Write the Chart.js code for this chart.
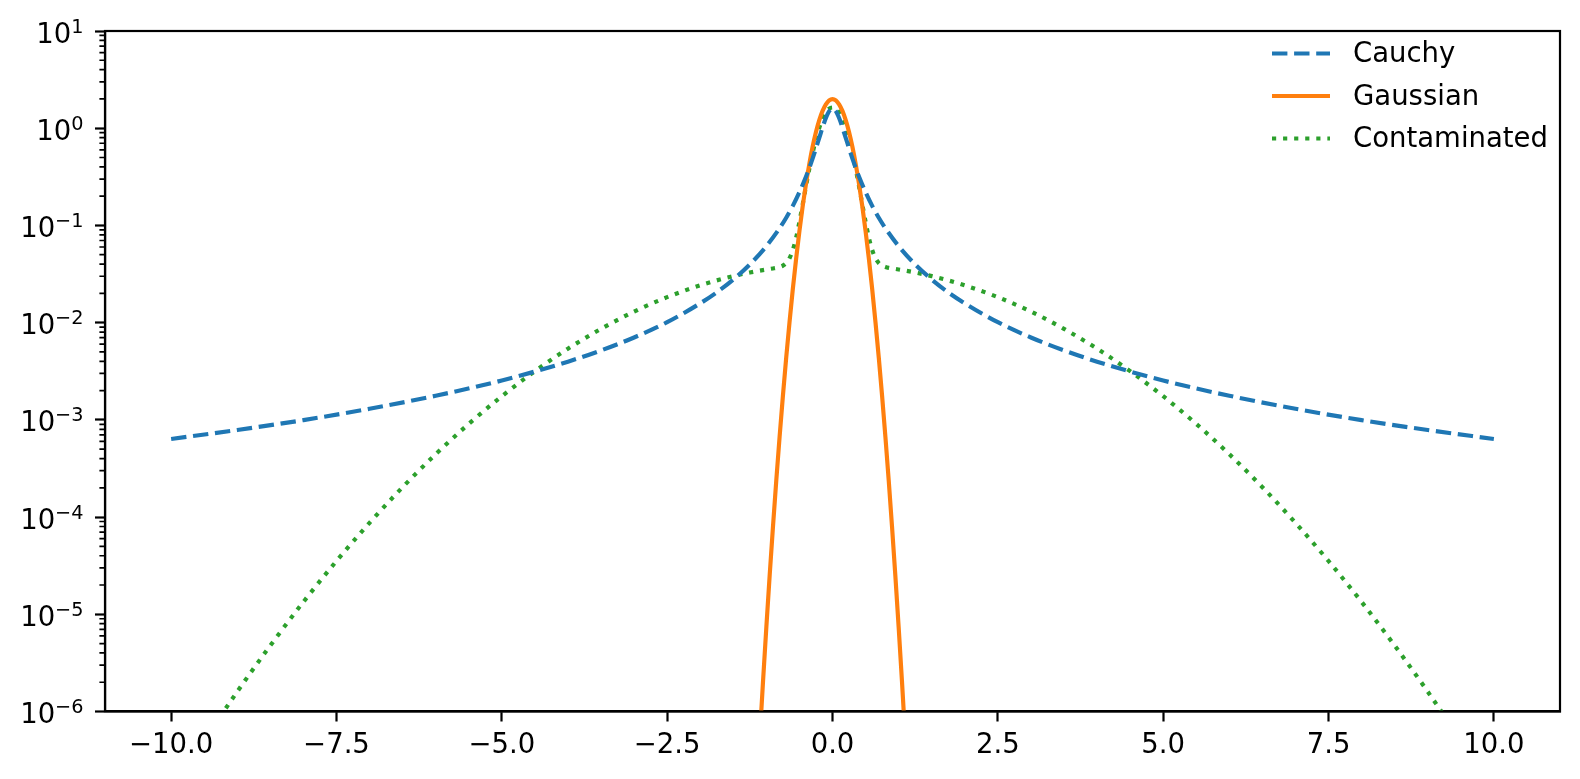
<!DOCTYPE html>
<html><head><meta charset="utf-8">
<script src="https://cdn.jsdelivr.net/npm/chart.js@4/dist/chart.umd.min.js"></script>
<style>html,body{margin:0;padding:0;background:#fff;}#wrap{width:1580px;height:779px;position:relative;}canvas{display:block;}</style>
</head><body><div id="wrap"><canvas id="c"></canvas></div>
<script>
const seriesNames = ['Cauchy', 'Gaussian', 'Contaminated'];
const seriesColors = ['#1f77b4', '#ff7f0e', '#2ca02c'];

const cauchyX = [-10,-9,-8,-7,-6,-5,-4,-3.5,-3,-2.5,-2,-1.75,-1.5,-1.25,-1,-0.8,-0.7,-0.6,-0.5,-0.4,-0.3,-0.2,-0.15,-0.1,-0.05,0,
  0.05,0.1,0.15,0.2,0.3,0.4,0.5,0.6,0.7,0.8,1,1.25,1.5,1.75,2,2.5,3,3.5,4,5,6,7,8,9,10];
const cauchyY = [0.000636,0.000786,0.000994,0.00130,0.00177,0.00254,0.00397,0.00518,0.00704,0.0101,0.0158,0.0205,0.0278,0.0397,0.0612,0.0936,0.120,0.159,0.220,0.318,0.490,0.796,1.019,1.273,1.498,1.592,
  1.498,1.273,1.019,0.796,0.490,0.318,0.220,0.159,0.120,0.0936,0.0612,0.0397,0.0278,0.0205,0.0158,0.0101,0.00704,0.00518,0.00397,0.00254,0.00177,0.00130,0.000994,0.000786,0.000636];

const gaussX = [-1.15,-1.1,-1.05,-1,-0.95,-0.9,-0.85,-0.8,-0.75,-0.7,-0.65,-0.6,-0.55,-0.5,-0.45,-0.4,-0.35,-0.3,-0.25,-0.2,-0.15,-0.1,-0.05,0,
  0.05,0.1,0.15,0.2,0.25,0.3,0.35,0.4,0.45,0.5,0.55,0.6,0.65,0.7,0.75,0.8,0.85,0.9,0.95,1,1.05,1.1,1.15];
const gaussY = [1.32e-7,5.39e-7,2.06e-6,7.43e-6,2.51e-5,7.99e-5,0.000239,0.000669,0.00176,0.00436,0.0101,0.0222,0.0455,0.0876,0.159,0.270,0.431,0.648,0.913,1.210,1.506,1.760,1.933,1.995,
  1.933,1.760,1.506,1.210,0.913,0.648,0.431,0.270,0.159,0.0876,0.0455,0.0222,0.0101,0.00436,0.00176,0.000669,0.000239,7.99e-5,2.51e-5,7.43e-6,2.06e-6,5.39e-7,1.32e-7];

const contX = [-10,-9.5,-9,-8.5,-8,-7.5,-7,-6.5,-6,-5.5,-5,-4.5,-4,-3.5,-3,-2.5,-2,-1.75,-1.5,-1.25,-1,-0.9,-0.85,-0.8,-0.75,-0.7,-0.65,-0.6,-0.55,-0.5,-0.45,-0.4,-0.35,-0.3,-0.25,-0.2,-0.15,-0.1,-0.05,0,
  0.05,0.1,0.15,0.2,0.25,0.3,0.35,0.4,0.45,0.5,0.55,0.6,0.65,0.7,0.75,0.8,0.85,0.9,1,1.25,1.5,1.75,2,2.5,3,3.5,4,4.5,5,5.5,6,6.5,7,7.5,8,8.5,9,9.5,10];
const contY = [1.49e-7,5.03e-7,1.60e-6,4.77e-6,1.34e-5,3.53e-5,8.73e-5,0.000203,0.000443,0.000909,0.00175,0.00317,0.00540,0.00863,0.0130,0.0183,0.0242,0.0272,0.0301,0.0328,0.0352,0.0361,0.0366,0.0374,0.0386,0.0410,0.0460,0.0559,0.0748,0.109,0.166,0.255,0.384,0.558,0.770,1.008,1.244,1.448,1.587,1.636,
  1.587,1.448,1.244,1.008,0.770,0.558,0.384,0.255,0.166,0.109,0.0748,0.0559,0.0460,0.0410,0.0386,0.0374,0.0366,0.0361,0.0352,0.0328,0.0301,0.0272,0.0242,0.0183,0.0130,0.00863,0.00540,0.00317,0.00175,0.000909,0.000443,0.000203,8.73e-5,3.53e-5,1.34e-5,4.77e-6,1.60e-6,5.03e-7,1.49e-7];

const xTickValues = [-10, -7.5, -5, -2.5, 0, 2.5, 5, 7.5, 10];
const xTickLabels = ['\u221210.0', '\u22127.5', '\u22125.0', '\u22122.5', '0.0', '2.5', '5.0', '7.5', '10.0'];
const yTickValues = [1e-6, 1e-5, 1e-4, 1e-3, 1e-2, 1e-1, 1e0, 1e1];
const yTickBase = '10';
const yTickExponents = ['\u22126', '\u22125', '\u22124', '\u22123', '\u22122', '\u22121', '0', '1'];

const FONT = 'DejaVu Sans';
const FS = 27.5;
Chart.defaults.font.family = FONT;
Chart.defaults.font.size = FS;
Chart.defaults.color = '#000';

function pts(xs, ys) { return xs.map((x, i) => ({ x: x, y: ys[i] })); }

const LW = 4.17;
const datasets = [
  { label: seriesNames[0], data: pts(cauchyX, cauchyY), borderColor: seriesColors[0], borderDash: [15.4, 6.7] },
  { label: seriesNames[1], data: pts(gaussX, gaussY), borderColor: seriesColors[1], borderDash: [] },
  { label: seriesNames[2], data: pts(contX, contY), borderColor: seriesColors[2], borderDash: [4.17, 6.9] }
].map(d => Object.assign(d, {
  borderWidth: LW, pointRadius: 0, pointHoverRadius: 0, fill: false,
  cubicInterpolationMode: 'monotone', clip: 0, borderCapStyle: 'butt', borderJoinStyle: 'round'
}));

const framePlugin = {
  id: 'frame',
  afterDraw(chart) {
    const ctx = chart.ctx, a = chart.chartArea, ys = chart.scales.y;
    ctx.save();
    ctx.strokeStyle = '#000';
    ctx.lineWidth = 1.7;
    ctx.beginPath();
    for (let e = -6; e < 1; e++) {
      for (let k = 2; k <= 9; k++) {
        const py = ys.getPixelForValue(k * Math.pow(10, e));
        ctx.moveTo(a.left - 5.6, py);
        ctx.lineTo(a.left, py);
      }
    }
    ctx.stroke();
    ctx.lineWidth = 2.2;
    ctx.strokeRect(a.left, a.top, a.right - a.left, a.bottom - a.top);
    ctx.fillStyle = '#000';
    ctx.textBaseline = 'alphabetic';
    ctx.textAlign = 'left';
    const rightEdge = a.left - 21.5;
    const expFont = (FS * 0.7).toFixed(2) + 'px "' + FONT + '"';
    const baseFont = FS + 'px "' + FONT + '"';
    yTickValues.forEach((v, i) => {
      const py = ys.getPixelForValue(v);
      ctx.font = expFont;
      const ew = ctx.measureText(yTickExponents[i]).width;
      ctx.font = baseFont;
      const bw = ctx.measureText(yTickBase).width;
      const x0 = rightEdge - ew - bw;
      ctx.fillText(yTickBase, x0, py + 11.5);
      ctx.font = expFont;
      ctx.fillText(yTickExponents[i], x0 + bw, py + 1.5);
    });
    ctx.font = baseFont;
    ctx.textBaseline = 'middle';
    chart.data.datasets.forEach((d, i) => {
      const y = a.top + 22.5 + i * 42.5;
      ctx.beginPath();
      ctx.strokeStyle = d.borderColor;
      ctx.lineWidth = LW;
      ctx.lineCap = 'butt';
      ctx.setLineDash(d.borderDash);
      ctx.moveTo(a.right - 288, y);
      ctx.lineTo(a.right - 230, y);
      ctx.stroke();
      ctx.setLineDash([]);
      ctx.fillStyle = '#000';
      ctx.fillText(d.label, a.right - 207, y + 1.5);
    });
    ctx.restore();
  }
};

new Chart(document.getElementById('c'), {
  type: 'line',
  data: { datasets: datasets },
  options: {
    responsive: true, maintainAspectRatio: false, animation: false,
    layout: { padding: { left: 0, right: 20, top: 31, bottom: 0 } },
    plugins: { legend: { display: false }, tooltip: { enabled: false } },
    scales: {
      x: {
        type: 'linear', min: -11, max: 11,
        afterBuildTicks(s) { s.ticks = xTickValues.map(v => ({ value: v })); },
        afterFit(s) { s.height = 67.5; },
        ticks: { callback: (v, i) => xTickLabels[i], autoSkip: false, maxRotation: 0, padding: 8, color: '#000' },
        grid: { drawOnChartArea: false, tickLength: 10, tickWidth: 2.2, tickColor: '#000' },
        border: { color: '#000', width: 2.2 }
      },
      y: {
        type: 'logarithmic', min: 1e-6, max: 10,
        afterBuildTicks(s) { s.ticks = yTickValues.map(v => ({ value: v })); },
        afterFit(s) { s.width = 105; },
        ticks: { display: false },
        grid: { drawOnChartArea: false, drawTicks: true, tickLength: 10, tickWidth: 2.2, tickColor: '#000' },
        border: { color: '#000', width: 2.2 }
      }
    }
  },
  plugins: [framePlugin]
});
</script></body></html>
